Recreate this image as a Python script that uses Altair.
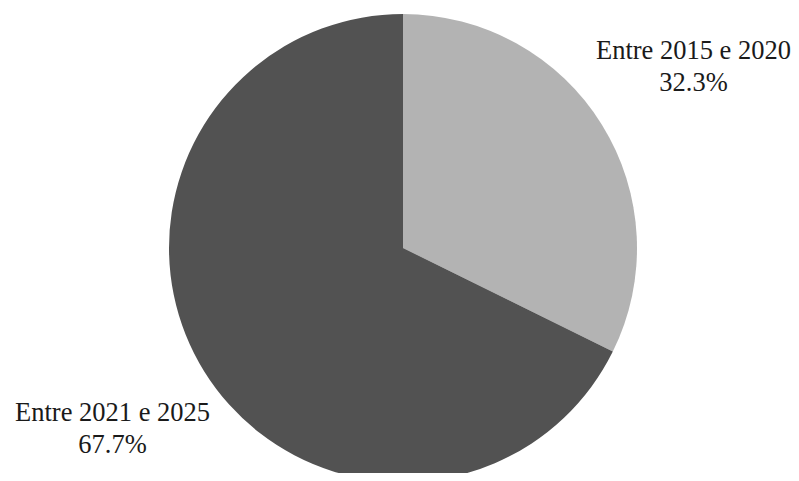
import altair as alt
import pandas as pd

categories = ["Entre 2015 e 2020", "Entre 2021 e 2025"]
values = [32.3, 67.7]
pct_labels = ["32.3%", "67.7%"]
colors = ["#b3b3b3", "#525252"]

df = pd.DataFrame({
    "cat": categories,
    "value": values,
    "label": [c + "\n" + p for c, p in zip(categories, pct_labels)],
    "order": [0, 1],
})

base = alt.Chart(df).encode(
    theta=alt.Theta("value:Q", stack=True),
    order=alt.Order("order:Q"),
)

arcs = base.mark_arc(outerRadius=234, stroke=None).encode(
    color=alt.Color("cat:N", scale=alt.Scale(domain=categories, range=colors), legend=None),
    x=alt.value(395),
    y=alt.value(240),
)

texts = base.mark_text(
    radius=342,
    font="Liberation Serif",
    fontSize=26.5,
    lineBreak="\n",
    lineHeight=32,
    align="center",
    baseline="middle",
    dy=-16,
    color="#1a1a1a",
).encode(
    text="label:N",
    x=alt.value(395),
    y=alt.value(240),
)

chart = alt.layer(arcs, texts).properties(
    width=783, height=465, padding=0, background="white",
    autosize=alt.AutoSizeParams(type="none"),
).configure_view(stroke=None, strokeWidth=0)

chart.save("out.html", embed_options={"renderer": "svg", "actions": False})
